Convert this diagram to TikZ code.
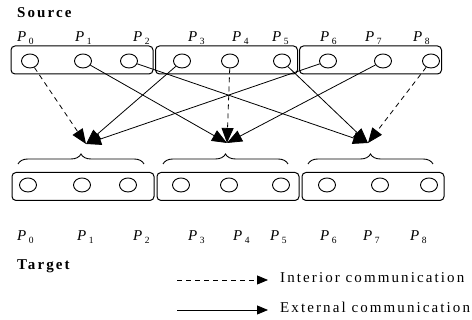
\documentclass[tikz,border=0pt]{standalone}
\usepackage{fontspec}
\setmainfont{Liberation Serif}
\newfontfamily\spacedfont{Liberation Serif}[LetterSpace=14]
\usetikzlibrary{shapes.geometric,arrows.meta,decorations.pathreplacing,positioning}

\newcommand{\plab}[1]{\textit{P}\kern2.5pt\raisebox{-3pt}{\fontsize{9.5}{10}\selectfont #1}}

\begin{document}
\begin{tikzpicture}[x=1pt,y=1pt]
\tikzstyle{proc}=[ellipse, draw=black, line width=0.9pt,
	minimum width=17pt, minimum height=14pt, inner sep=0pt]
\tikzstyle{group}=[draw=black, line width=1pt, rounded corners=4pt,
	minimum width=142pt, minimum height=28pt, inner sep=0pt]
\tikzstyle{pname}=[inner sep=0pt, anchor=base west, font=\fontsize{15}{17}\selectfont]
\tikzstyle{title}=[inner sep=0pt, anchor=base west,
	font=\spacedfont\bfseries\fontsize{15}{17}\selectfont]
\tikzstyle{legtext}=[inner sep=0pt, anchor=base west,
	font=\spacedfont\fontsize{15}{17}\selectfont]
\tikzstyle{intcomm}=[dash pattern=on 5pt off 4pt, line width=0.8pt,
	-{Triangle[length=15pt,width=12pt]}]
\tikzstyle{extcomm}=[line width=0.8pt, -{Triangle[length=15pt,width=12pt]}]
\tikzstyle{curly}=[decorate, decoration={brace, amplitude=10pt}, line width=0.9pt]
\useasboundingbox (0,0) rectangle (472,320);

\node[title] (src) at (17,302) {Source};
\node[title] (tgt) at (17,50) {Target};

% source side
\node[group] (sg1) at (82,260) {};
\node[group] (sg2) at (226.5,260) {};
\node[group] (sg3) at (370.5,260) {};
\node[proc] (s0) at (30,259) {};
\node[proc] (s1) at (83,259) {};
\node[proc] (s2) at (129,259) {};
\node[proc] (s3) at (182,259) {};
\node[proc] (s4) at (230,259) {};
\node[proc] (s5) at (282,259) {};
\node[proc] (s6) at (328,259) {};
\node[proc] (s7) at (383,259) {};
\node[proc] (s8) at (431,259) {};
\node[pname] (sp0) at (17,278) {\plab{0}};
\node[pname] (sp1) at (75,278) {\plab{1}};
\node[pname] (sp2) at (133,278) {\plab{2}};
\node[pname] (sp3) at (188,278) {\plab{3}};
\node[pname] (sp4) at (232,278) {\plab{4}};
\node[pname] (sp5) at (272,278) {\plab{5}};
\node[pname] (sp6) at (320,278) {\plab{6}};
\node[pname] (sp7) at (365,278) {\plab{7}};
\node[pname] (sp8) at (413,278) {\plab{8}};

% target side
\node[group] (tg1) at (83,133.5) {};
\node[group] (tg2) at (228,133.5) {};
\node[group] (tg3) at (373,133.5) {};
\node[proc] (t0) at (28,135) {};
\node[proc] (t1) at (82,135) {};
\node[proc] (t2) at (128,135) {};
\node[proc] (t3) at (181,135) {};
\node[proc] (t4) at (229,135) {};
\node[proc] (t5) at (281,135) {};
\node[proc] (t6) at (327,135) {};
\node[proc] (t7) at (380,135) {};
\node[proc] (t8) at (429,135) {};
\node[pname] (tp0) at (17,79) {\plab{0}};
\node[pname] (tp1) at (77,79) {\plab{1}};
\node[pname] (tp2) at (133,79) {\plab{2}};
\node[pname] (tp3) at (188,79) {\plab{3}};
\node[pname] (tp4) at (233,79) {\plab{4}};
\node[pname] (tp5) at (270,79) {\plab{5}};
\node[pname] (tp6) at (320,79) {\plab{6}};
\node[pname] (tp7) at (363,79) {\plab{7}};
\node[pname] (tp8) at (410,79) {\plab{8}};

\draw[curly] (18,156) -- (144,156);
\draw[curly] (163,156) -- (288,156);
\draw[curly] (308,156) -- (433,156);

\coordinate (g1) at (86,176);
\coordinate (g2) at (227,177);
\coordinate (g3) at (368,177);

\draw[intcomm] (s0) -- (g1);
\draw[extcomm] (s3) -- (g1);
\draw[extcomm] (s6) -- (g1);
\draw[extcomm] (s1) -- (g2);
\draw[intcomm] (s4) -- (g2);
\draw[extcomm] (s7) -- (g2);
\draw[extcomm] (s2) -- (g3);
\draw[extcomm] (s5) -- (g3);
\draw[intcomm] (s8) -- (g3);

% legend
\coordinate (la) at (177,40);
\coordinate (lb) at (268,40);
\coordinate (lc) at (177,10);
\coordinate (ld) at (268,10);
\draw[intcomm, -{Triangle[length=11pt,width=9pt]}] (la) -- (lb);
\draw[extcomm, -{Triangle[length=11pt,width=9pt]}] (lc) -- (ld);
\node[legtext] (lint) at (280,37) {Interior communication};
\node[legtext] (lext) at (280,7) {External communication};
\end{tikzpicture}
\end{document}
